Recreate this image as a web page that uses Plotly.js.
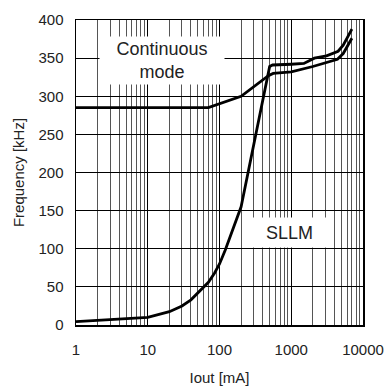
<!DOCTYPE html>
<html>
<head>
<meta charset="utf-8">
<script src="https://cdn.plot.ly/plotly-3.0.1.min.js"></script>
<style>
  html, body { margin: 0; padding: 0; background: #fff; }
  #chart { width: 385px; height: 388px; }
</style>
</head>
<body>
<div id="chart"></div>
<script>
// Data
const continuousIout = [1, 70, 200, 300, 480, 560, 1000, 2000, 3600, 4400, 5300, 7000];
const continuousFreq = [285, 285, 300, 312, 327, 330, 332, 339, 346, 348.5, 356, 376];

const sllmIout = [1, 10, 20, 30, 40, 60, 70, 85, 100, 120, 150, 200, 500, 550, 1000, 1500, 2100, 3100, 4500, 5300, 7000];
const sllmFreq = [4.4, 10, 17.5, 25, 33, 50, 56, 68, 80, 98, 122, 155, 339, 341, 342, 343, 350, 353, 359, 367, 388];

const xTickVals = [1, 10, 100, 1000, 10000];
const xTickText = ['1', '10', '100', '1000', '10000'];
const yTickVals = [0, 50, 100, 150, 200, 250, 300, 350, 400];

const xTitle = 'Iout [mA]';
const yTitle = 'Frequency [kHz]';
const labelContinuous = 'Continuous<br>mode';
const labelSLLM = 'SLLM';

// minor grid positions (2..9 in each decade)
const minorVals = [];
for (let d = 1; d < 10000; d *= 10) {
  for (let k = 2; k <= 9; k++) minorVals.push(k * d);
}

const FONT = '"Liberation Sans", Arial, sans-serif';
const lineStyle = { color: '#000', width: 2.8 };

const traces = [
  { x: continuousIout, y: continuousFreq, type: 'scatter', mode: 'lines', line: lineStyle, name: 'Continuous mode', hoverinfo: 'skip' },
  { x: sllmIout, y: sllmFreq, type: 'scatter', mode: 'lines', line: lineStyle, name: 'SLLM', hoverinfo: 'skip' }
];

const layout = {
  width: 385,
  height: 388,
  margin: { l: 76, r: 22, t: 20, b: 63 },
  paper_bgcolor: '#fff',
  plot_bgcolor: '#fff',
  showlegend: false,
  font: { family: FONT, size: 15, color: '#222' },
  xaxis: {
    type: 'log',
    range: [0, 4],
    tickmode: 'array',
    tickvals: xTickVals,
    ticktext: xTickText,
    ticks: '',
    ticklabelstandoff: 10,
    showgrid: true,
    gridcolor: '#000',
    gridwidth: 1,
    minor: { tickmode: 'array', tickvals: minorVals, showgrid: true, gridcolor: '#555', gridwidth: 1, ticks: '' },
    showline: true, mirror: true, linecolor: '#000', linewidth: 1.5,
    zeroline: false,
    tickfont: { size: 15, color: '#222' },
    title: { text: xTitle, font: { size: 15, color: '#222' }, standoff: 16 },
    fixedrange: true
  },
  yaxis: {
    range: [0, 400],
    tickmode: 'array',
    tickvals: yTickVals,
    ticks: '',
    ticklabelstandoff: 8,
    showgrid: true,
    gridcolor: '#000',
    gridwidth: 1,
    showline: true, mirror: true, linecolor: '#000', linewidth: 1.5,
    zeroline: false,
    tickfont: { size: 15, color: '#222' },
    title: { text: yTitle, font: { size: 15, color: '#222' }, standoff: 10 },
    fixedrange: true
  },
  annotations: [
    {
      xref: 'paper', yref: 'paper',
      x: (162 - 76) / 287, y: (325 - 60.5) / 305,
      xanchor: 'center', yanchor: 'middle',
      text: labelContinuous,
      showarrow: false,
      bgcolor: '#fff',
      width: 124, height: 47,
      borderpad: 0,
      font: { family: FONT, size: 18, color: '#222' }
    },
    {
      xref: 'paper', yref: 'paper',
      x: (289.5 - 76) / 287, y: (325 - 232.5) / 305,
      xanchor: 'center', yanchor: 'middle',
      text: labelSLLM,
      showarrow: false,
      bgcolor: '#fff',
      width: 73, height: 29,
      borderpad: 0,
      font: { family: FONT, size: 18, color: '#222' }
    }
  ]
};

Plotly.newPlot('chart', traces, layout, { displayModeBar: false, staticPlot: true });
</script>
</body>
</html>
